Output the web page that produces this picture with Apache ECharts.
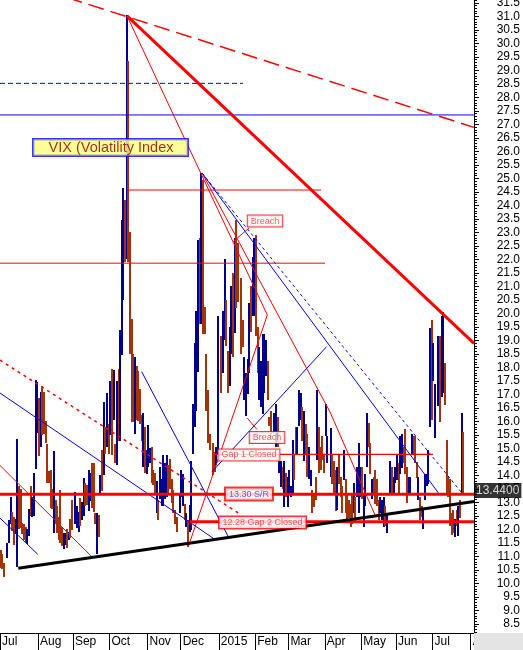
<!DOCTYPE html>
<html><head><meta charset="utf-8">
<script src="https://cdn.jsdelivr.net/npm/echarts@6/dist/echarts.min.js"></script>
<style>html,body{margin:0;padding:0;background:#fff}#c{width:523px;height:650px}</style>
</head><body><div id="c"></div>
<script>
// ---- x axis: one slot per weekday from 1 Jul 2014 (holidays are empty slots) ----
const monthTickIdx    = [0, 23, 44, 66, 89, 109, 132, 154, 174, 196, 218, 239, 261, 284];
const monthTickLabels = ['Jul','Aug','Sep','Oct','Nov','Dec','2015','Feb','Mar','Apr','May','Jun','Jul','Aug'];
const slotCount = 286;

// ---- y axis ----
const yMin = 8.163, yMax = 31.607;
const yMajorTicks = []; for (let i = 17; i <= 63; i++) yMajorTicks.push(i / 2);
const yMinorTicks = []; for (let i = 82; i <= 316; i++) yMinorTicks.push(i / 10);

// ---- daily bars: high, low, up(1)/down(0); null = market holiday ----
const highs = [
 // Jul 2014
 11.25,11.1,10.75,null,11.5,12.35,13.2,12.65,12.45,12.4,15.35,13.6,13.5,12.25,12.2,12.1,12.0,12.75,13.6,13.2,14.1,17.55,17.45,
 // Aug
 16.85,17.1,17.3,17.1,16.0,15.15,14.15,14.2,13.5,14.9,13.1,12.85,12.45,13.45,12.1,11.85,11.85,12.0,11.9,12.4,13.1,
 // Sep
 null,13.4,12.85,12.65,13.15,13.0,13.9,13.7,13.65,14.2,14.1,14.45,14.45,12.6,12.6,12.55,14.0,14.95,16.7,15.8,17.05,15.9,
 // Oct
 17.5,17.95,17.9,15.15,17.5,17.95,19.4,23.45,24.65,24.2,31.05,29.35,23.0,19.8,18.5,18.4,18.05,17.85,17.2,16.25,16.3,15.8,14.95,
 // Nov
 15.85,15.0,15.05,14.2,14.1,13.8,13.1,14.3,13.85,14.75,14.45,14.75,14.4,14.6,13.85,13.45,12.7,12.45,null,13.35,
 // Dec
 14.2,14.05,12.95,12.6,12.35,12.9,14.55,16.65,18.9,20.1,22.7,22.8,25.2,24.95,20.25,18.5,17.15,15.55,null,15.2,14.85,15.05,19.9,
 // Jan 2015
 null,19.15,20.1,22.0,20.5,18.6,19.5,21.0,21.5,22.8,23.45,22.6,null,21.3,19.75,18.4,17.8,18.3,20.4,21.0,22.1,22.8,
 // Feb
 22.9,19.5,18.75,18.25,19.25,19.25,19.0,18.25,16.15,16.4,null,16.3,16.65,16.15,14.55,14.55,14.3,14.55,14.1,13.95,
 // Mar
 14.2,13.6,15.3,14.8,15.8,15.8,17.15,17.05,16.55,16.4,15.9,15.55,15.05,14.2,13.45,13.35,13.95,17.15,15.8,15.05,15.45,14.8,
 // Apr
 16.65,15.45,null,15.75,14.8,14.55,14.2,14.3,14.8,13.95,13.6,14.95,13.85,13.35,13.1,12.95,13.35,13.7,13.2,14.3,15.2,14.3,
 // May
 14.3,13.35,14.05,16.3,15.95,15.2,13.85,13.95,14.2,13.85,13.1,13.2,13.1,13.2,12.85,12.6,null,14.55,14.3,13.95,14.3,
 // Jun
 14.8,14.45,15.45,15.55,15.05,15.7,14.3,13.95,13.95,15.55,15.45,15.45,14.5,13.95,13.2,12.85,12.7,14.05,14.05,14.95,19.45,19.75,
 // Jul
 18.9,17.4,null,19.15,19.15,19.9,20.05,18.15,15.3,13.95,13.85,12.6,12.7,12.4,12.7,12.85,13.1,16.3,15.6
];
const lows = [
 // Jul 2014
 10.6,10.55,10.25,null,10.95,11.5,12.2,11.95,11.4,11.85,10.6,12.0,12.05,11.85,11.6,11.55,11.45,11.75,12.5,12.45,12.5,14.25,15.55,
 // Aug
 14.7,15.05,15.5,15.55,15.2,13.7,13.7,12.8,12.75,11.85,12.2,11.85,11.6,11.5,11.4,11.25,11.4,11.3,11.6,11.7,12.0,
 // Sep
 null,12.2,12.05,11.9,12.1,12.35,12.5,12.85,12.9,12.7,13.05,12.8,12.65,12.2,11.1,11.75,13.3,13.45,14.0,14.8,15.05,14.8,
 // Oct
 15.5,14.75,16.05,14.45,14.4,15.3,15.3,18.45,20.5,21.9,22.0,21.9,18.5,16.0,16.0,15.55,16.05,16.0,15.9,15.3,14.3,14.1,14.05,
 // Nov
 14.3,14.45,13.7,13.65,13.3,12.6,12.35,13.1,12.85,12.85,13.1,13.2,13.3,13.5,12.95,12.6,12.2,11.9,null,12.6,
 // Dec
 13.2,12.85,12.35,12.1,11.35,11.9,12.0,14.8,15.8,16.4,17.8,19.6,19.6,19.25,19.25,16.4,15.2,14.95,null,14.0,14.1,14.4,14.8,
 // Jan 2015
 null,17.05,17.8,19.0,18.8,17.05,17.3,18.5,18.4,19.3,20.2,20.4,null,18.5,18.75,16.8,16.2,17.0,17.8,19.3,19.9,19.9,
 // Feb
 19.15,17.8,16.8,16.55,16.3,17.05,17.65,16.8,15.8,15.45,null,15.55,15.05,15.05,14.1,13.6,13.5,12.85,13.2,12.85,
 // Mar
 13.35,13.2,13.35,13.85,14.8,14.8,15.8,16.05,15.3,14.55,14.8,13.95,13.85,13.6,12.6,12.85,13.1,14.55,14.1,14.2,14.55,14.1,
 // Apr
 15.45,14.45,null,13.95,13.7,13.35,12.7,12.7,13.7,13.2,12.6,13.85,12.6,12.35,12.45,12.1,12.2,12.6,12.35,13.2,12.6,13.2,
 // May
 13.1,12.1,12.85,14.3,15.05,14.05,13.1,13.35,12.95,12.85,12.35,12.6,12.35,12.1,12.1,11.85,null,13.35,13.35,13.35,13.7,
 // Jun
 13.85,13.35,14.05,14.3,14.45,14.05,12.95,13.35,13.35,14.8,14.8,14.45,13.9,13.1,12.35,12.45,12.0,13.1,13.6,13.7,15.8,16.05,
 // Jul
 17.5,15.4,null,16.55,15.95,16.9,17.05,16.6,13.35,13.2,12.1,11.8,11.85,11.75,12.1,11.75,12.45,13.35,13.35
];
const ups = [
 // Jul 2014
 0,0,0,null,1,1,1,0,0,1,1,0,0,0,0,0,1,1,0,1,1,1,1,
 // Aug
 0,1,0,0,0,0,0,0,0,1,0,0,0,0,0,1,1,0,1,0,0,
 // Sep
 null,1,1,1,0,1,1,0,0,1,1,0,0,0,1,0,1,0,1,0,1,0,
 // Oct
 1,0,1,0,1,0,1,1,1,0,1,0,0,0,0,1,0,0,0,0,1,0,1,
 // Nov
 1,1,0,0,0,1,0,1,1,1,1,1,0,0,0,0,0,0,null,1,
 // Dec
 1,1,0,1,0,1,1,1,1,1,1,0,1,0,0,0,0,0,null,0,0,1,1,
 // Jan 2015
 null,0,1,1,0,0,1,1,0,1,0,0,null,0,0,1,1,1,1,0,1,1,
 // Feb
 0,0,1,1,1,1,1,0,0,0,null,1,1,0,1,1,0,1,0,1,
 // Mar
 1,1,1,0,0,1,1,1,0,1,0,0,1,1,0,0,0,1,0,0,0,0,
 // Apr
 1,1,null,1,0,0,0,1,0,0,0,1,0,0,0,0,0,1,0,1,1,1,
 // May
 0,1,1,1,0,0,1,0,0,0,0,1,1,1,0,1,null,1,0,1,1,
 // Jun
 1,0,1,1,0,0,0,1,1,1,0,0,0,1,0,0,1,1,1,1,1,0,
 // Jul
 1,1,null,1,0,1,1,0,0,0,0,0,0,1,0,1,0,1,0
];
const lastValue = 13.44;

// ---- drawn trend lines / levels, as [slot, value] points ----
const trendOctHigh   = [[76.13, 31.02], [285.5, 18.89]];
const trendLongDash  = [[0, 32.48], [285.5, 26.89]];
const fanOctApex     = [[76.13, 31.02], [160.8, 19.94], [113.1, 11.36]];
const fanDecRed      = [[121.4, 25.2], [198.6, 16.35], [225.8, 12.53]];
const level2457      = [[76.13, 24.57], [193.2, 24.57]];
const level2186      = [[-0.5, 21.86], [195.6, 21.86]];
const level2852      = [[-0.5, 28.52], [146.1, 28.52]];
const level2735      = [[-0.5, 27.35], [285.5, 27.35]];
const decBlueSolid   = [[121.4, 25.2], [265.0, 13.27]];
const decBlueDash    = [[121.4, 25.2], [278.3, 13.34]];
const blueRise       = [[127.2, 14.12], [196.6, 18.77]];
const redEarly       = [[-0.5, 14.37], [55.2, 10.97]];
const redDotted      = [[-0.5, 18.27], [145.3, 12.53]];
const blueEarly1     = [[-0.5, 17.05], [128.0, 11.68]];
const blueEarly2     = [[-0.5, 12.42], [22.25, 11.08]];
const blueOct        = [[85.0, 17.84], [137.25, 11.73]];
const supportBlack   = [[10.54, 10.56], [285.5, 13.03]];
const level1330      = [[-0.5, 13.30], [285.5, 13.30]];
const level1228      = [[114.15, 12.28], [285.5, 12.28]];
const gap1Level      = [[128.0, 14.78], [260.8, 14.78]];
const breachUpLink   = [[140.3, 22.66], [149.7, 23.16]];
const breachDownLink = [[148.7, 16.12], [154.6, 15.70]];

// ---- annotation texts with their anchor [slot, value] ----
const noteTexts   = ['VIX (Volatility Index', 'Breach', 'Breach', 'Gap 1 Closed', '13.30 S/R', '12.28 Gap 2 Closed'];
const noteAnchors = [[66.17, 26.14], [159.4, 23.42], [160.6, 15.40], [149.7, 14.76], [149.7, 13.31], [157.9, 12.26]];
const noteKinds   = ['title', 'red', 'red', 'red', 'blue', 'red2'];

// =====================================================================
const RED = '#ff0000', BLUE = '#0000ff', BLACK = '#000000';
const UPC = '#00008c', DNC = '#a5330a';
const FONT = '"Liberation Sans", Arial, sans-serif';

const barData = [];
for (let i = 0; i < highs.length; i++) {
  if (highs[i] == null) continue;
  barData.push([i, highs[i], lows[i], ups[i]]);
}

const tickVals = monthTickIdx.map(i => i - 0.5);
const tickLabelMap = {};
tickVals.forEach((v, j) => { tickLabelMap[String(v)] = monthTickLabels[j]; });

const lineDefs = [
  [trendLongDash, RED, 1.5, [16, 7]],
  [level2852, BLUE, 1, [5, 3]],
  [level2735, BLUE, 1, 'solid'],
  [level2457, RED, 1, 'solid'],
  [level2186, RED, 1, 'solid'],
  [fanOctApex, RED, 1, 'solid'],
  [fanDecRed, RED, 1, 'solid'],
  [decBlueSolid, BLUE, 1, 'solid'],
  [decBlueDash, BLUE, 1, [3, 3]],
  [blueRise, BLUE, 1, 'solid'],
  [redEarly, RED, 1, 'solid'],
  [redDotted, RED, 1.5, [3, 4]],
  [blueEarly1, BLUE, 1, 'solid'],
  [blueEarly2, BLUE, 1, 'solid'],
  [blueOct, BLUE, 1, 'solid'],
  [gap1Level, RED, 1.2, 'solid'],
  [breachUpLink, RED, 1, 'solid'],
  [breachDownLink, RED, 1, 'solid'],
  [level1330, RED, 3, 'solid'],
  [level1228, RED, 3, 'solid'],
  [supportBlack, BLACK, 3, 'solid'],
  [trendOctHigh, RED, 3, 'solid']
];

const noteStyles = {
  title: {color:'#800000', fontSize:14.5, backgroundColor:'#ffff80', borderColor:BLUE, borderWidth:1.5, padding:[1,14,0,15]},
  red:   {color:'#ff2a2a', fontSize:9, backgroundColor:'#ffffff', borderColor:RED, borderWidth:1, padding:[1,3,1,3]},
  blue:  {color:'#3333ff', fontSize:9, backgroundColor:'#ffffff', borderColor:RED, borderWidth:2, padding:[1,3,1,3]},
  red2:  {color:'#ff2a2a', fontSize:9, backgroundColor:'#ffffff', borderColor:RED, borderWidth:1.5, padding:[1,3,1,3]}
};

const series = [];
series.push({
  type: 'custom', name: 'VIX', xAxisIndex: 0, yAxisIndex: 0, z: 2, silent: true, animation: false,
  data: barData, encode: {x: 0, y: [1, 2]},
  renderItem: function (params, api) {
    const k = api.value(0), h = api.value(1), l = api.value(2), up = api.value(3);
    const p1 = api.coord([k, h]), p2 = api.coord([k, l]);
    const x = Math.round(p1[0]) - 1;
    return {type: 'rect', shape: {x: x, y: Math.round(p1[1]), width: 2, height: Math.max(1, Math.round(p2[1] - p1[1]))},
            style: {fill: up ? UPC : DNC}};
  }
});
lineDefs.forEach(d => {
  series.push({type: 'line', data: d[0], symbol: 'none', silent: true, animation: false, z: 3,
    lineStyle: {color: d[1], width: d[2], type: d[3]}});
});
series.push({
  type: 'scatter', symbolSize: 0, z: 5, silent: true, animation: false, clip: false,
  data: noteTexts.map((t, j) => ({
    value: noteAnchors[j],
    label: Object.assign({show: true, position: 'inside', formatter: t, fontFamily: FONT}, noteStyles[noteKinds[j]])
  }))
});
series.push({
  type: 'scatter', symbolSize: 0, z: 6, silent: true, animation: false, clip: false,
  data: [{value: [285.5, lastValue], label: {show: true, position: 'right', distance: 0,
    formatter: lastValue.toFixed(4), color: '#ffffff', backgroundColor: '#000000', fontSize: 12,
    fontFamily: FONT, padding: [2, 2, 1, 2]}}]
});

const chart = echarts.init(document.getElementById('c'), null, {renderer: 'canvas'});
chart.setOption({
  animation: false,
  backgroundColor: '#ffffff',
  textStyle: {fontFamily: FONT},
  grid: {left: 0, right: 49, top: 0, bottom: 17, containLabel: false, outerBoundsMode: 'none'},
  xAxis: [{
    type: 'value', min: -0.5, max: slotCount - 0.5,
    axisLine: {show: true, onZero: false, lineStyle: {color: BLACK, width: 1}},
    axisTick: {show: true, customValues: tickVals, length: 17, lineStyle: {color: BLACK, width: 1}},
    axisLabel: {show: true, customValues: tickVals, formatter: v => tickLabelMap[String(v)] || '',
      align: 'left', padding: [0, 0, 0, 2], margin: 3, color: BLACK, fontSize: 12, fontFamily: FONT},
    splitLine: {show: false}
  }],
  yAxis: [{
    type: 'value', position: 'right', min: yMin, max: yMax,
    axisLine: {show: true, onZero: false, lineStyle: {color: BLACK, width: 1}},
    axisTick: {show: true, customValues: yMajorTicks, length: 5, lineStyle: {color: BLACK}},
    axisLabel: {show: true, customValues: yMajorTicks, formatter: v => v.toFixed(1), align: 'right',
      margin: 46, color: BLACK, fontSize: 12, fontFamily: FONT, padding: [5, 0, 0, 0]},
    splitLine: {show: false}
  }, {
    type: 'value', position: 'right', min: yMin, max: yMax, offset: 0,
    axisLine: {show: false, onZero: false},
    axisTick: {show: true, customValues: yMinorTicks, length: 3, lineStyle: {color: BLACK}},
    axisLabel: {show: false},
    splitLine: {show: false}
  }],
  graphic: [{type: 'rect', right: 0, bottom: 0, z: 100, shape: {width: 49, height: 17}, style: {fill: '#e4e4e4'}}],
  series: series
});
</script></body></html>
